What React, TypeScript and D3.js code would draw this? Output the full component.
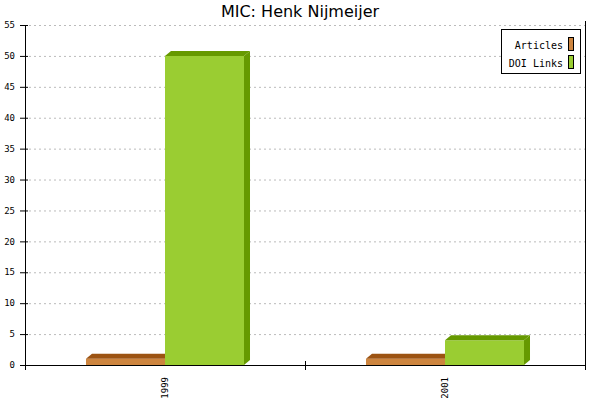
import React from 'react';
import * as d3 from 'd3';

const years = ['1999', '2001'];
const seriesNames = ['Articles', 'DOI Links'];
const articles = [1, 1];
const doiLinks = [50, 4];
const yTicks = [0, 5, 10, 15, 20, 25, 30, 35, 40, 45, 50, 55];

const front = ['#cd853f', '#9acd32'];
const shade = ['#9c5312', '#669900'];

const W = 600;
const H = 400;
const plot = { left: 25, right: 585, top: 25, bottom: 365 };
const mono = '"DejaVu Sans Mono", monospace';

const App: React.FC = () => {
    const x = d3.scaleBand().domain(years).range([plot.left, plot.right]);
    const xInner = d3.scaleBand().domain(seriesNames).range([0, x.bandwidth()]).paddingOuter(0.772);
    const y = d3.scaleLinear().domain([0, 55]).range([plot.bottom, plot.top]);
    const dx = 6;
    const dy = 5;
    const values = [articles, doiLinks];

    return (
        <div style={{ position: 'fixed', left: 0, top: 0 }}>
            <svg width={W} height={H} style={{ display: 'block', background: '#fff' }}>
                <text x={W / 2} y={17} textAnchor="middle" fontFamily='"DejaVu Sans", sans-serif' fontSize={16}>
                    MIC: Henk Nijmeijer
                </text>

                {/* grid */}
                {yTicks.filter(t => t > 0).map(t => (
                    <line key={t} x1={plot.left + 4} x2={plot.right} y1={y(t) + 0.5} y2={y(t) + 0.5}
                        stroke="#bbb" strokeDasharray="2,3" />
                ))}

                {/* bars */}
                {years.map((yr, i) => (
                    <g key={yr}>
                        {seriesNames.map((s, j) => {
                            const bx = (x(yr) as number) + (xInner(s) as number);
                            const w = xInner.bandwidth();
                            const top = y(values[j][i]);
                            const base = y(0);
                            return (
                                <g key={s}>
                                    <rect x={bx} y={top} width={w} height={base - top} fill={front[j]} />
                                    <polygon fill={shade[j]}
                                        points={`${bx},${top} ${bx + dx},${top - dy} ${bx + w + dx},${top - dy} ${bx + w},${top}`} />
                                    <polygon fill={shade[j]}
                                        points={`${bx + w},${top} ${bx + w + dx},${top - dy} ${bx + w + dx},${base - dy} ${bx + w},${base}`} />
                                </g>
                            );
                        })}
                    </g>
                ))}

                {/* y axis */}
                <line x1={plot.left + 0.5} x2={plot.left + 0.5} y1={plot.top} y2={plot.bottom + 5} stroke="#000" />
                {yTicks.map(t => (
                    <g key={t}>
                        <line x1={plot.left - 5} x2={plot.left + 3} y1={y(t) + 0.5} y2={y(t) + 0.5} stroke="#000" />
                        <text x={15} y={y(t)} dy="0.35em" textAnchor="end" fontFamily={mono} fontSize={9}>{t}</text>
                    </g>
                ))}

                {/* x axis */}
                <line x1={plot.left - 5} x2={plot.right} y1={plot.bottom + 0.5} y2={plot.bottom + 0.5} stroke="#000" />
                <line x1={plot.right + 0.5} x2={plot.right + 0.5} y1={plot.top - 4} y2={plot.bottom + 5} stroke="#000" />
                {years.map((yr, i) => {
                    const cx = (x(yr) as number) + x.bandwidth() / 2;
                    return (
                        <g key={yr}>
                            {i > 0 && <line x1={(x(yr) as number) + 0.5} x2={(x(yr) as number) + 0.5}
                                y1={plot.bottom - 4} y2={plot.bottom + 5} stroke="#000" />}
                            <text transform={`translate(${cx},${plot.bottom + 12}) rotate(-90)`} textAnchor="end"
                                dy="0.35em" fontFamily={mono} fontSize={9}>{yr}</text>
                        </g>
                    );
                })}

                {/* legend */}
                <rect x={501.5} y={29.5} width={79} height={44} fill="#fff" stroke="#000" />
                {seriesNames.map((s, j) => (
                    <g key={s}>
                        <text x={563} y={45 + j * 18} dy="0.35em" textAnchor="end" fontFamily={mono} fontSize={10}>{s}</text>
                        <rect x={568.5} y={37.5 + j * 18} width={5} height={13} fill={front[j]} stroke="#000" />
                    </g>
                ))}
            </svg>
        </div>
    );
};

export default App;
